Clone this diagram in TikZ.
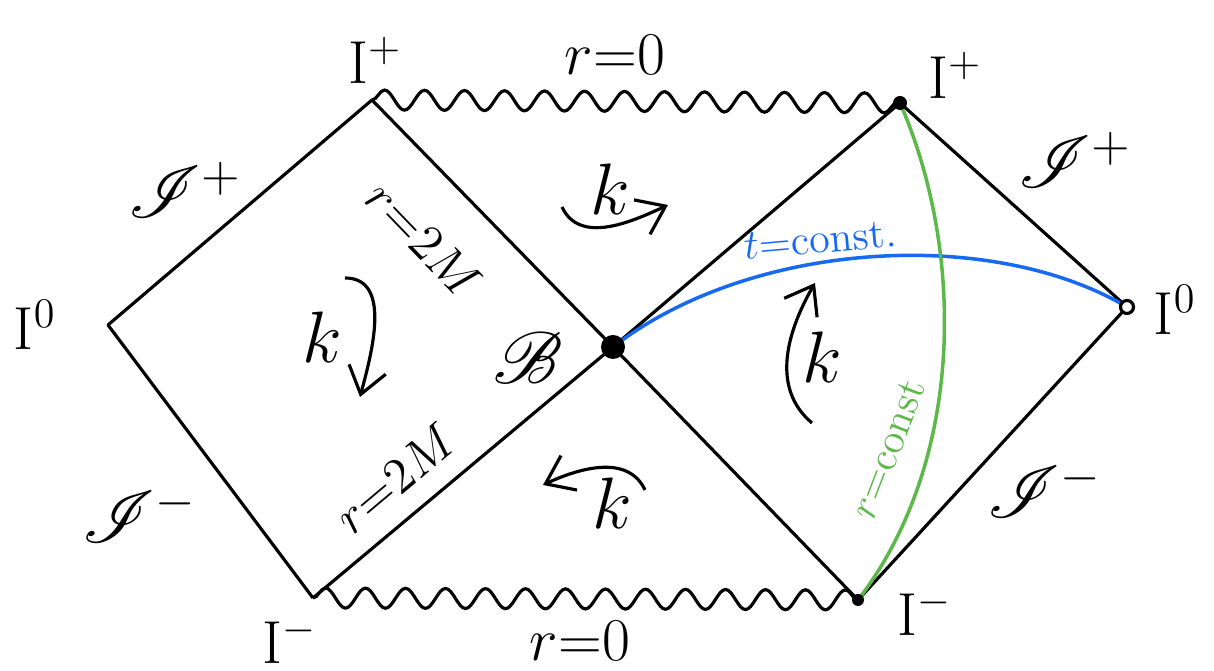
\documentclass[tikz,border=0pt]{standalone}
\usepackage{amsmath,amssymb}
\usepackage{mathrsfs}
\usetikzlibrary{arrows.meta,positioning,calc,decorations.pathmorphing}
\definecolor{tline}{HTML}{1769F2}
\definecolor{rline}{HTML}{5DB84A}
\tikzset{
  edge/.style={line width=0.9pt, line join=round},
  sing/.style={line width=0.9pt, decorate,
               decoration={snake, segment length=4mm, amplitude=1mm}},
  flow/.style={->, >={Straight Barb[length=2.6mm, width=3.8mm]}, line width=0.9pt},
  lbl/.style={font=\LARGE, inner sep=1pt},
  big/.style={font=\huge, inner sep=1pt},
  small/.style={font=\large, inner sep=1pt},
  dot/.style={circle, fill=black, inner sep=0pt, minimum size=#1},
  dot/.default=2mm
}

\begin{document}
\begin{tikzpicture}
  \useasboundingbox (0,0) rectangle (12.14,6.71);
  % corners of the diagram
  \coordinate (L0) at (1.08,3.46);
  \coordinate (TL) at (3.72,5.71);
  \coordinate (BL) at (3.13,0.73);
  \coordinate (B)  at (6.13,3.24);
  \coordinate (TR) at (9.00,5.68);
  \coordinate (R0) at (11.27,3.64);
  \coordinate (BR) at (8.58,0.71);

  % null boundaries and horizons
  \draw[edge] (TL) -- (L0) -- (BL);
  \draw[edge] (TL) -- (B) -- (BR);
  \draw[edge] (BL) -- (B) -- (TR);
  \draw[edge] (TR) -- (R0) -- (BR);

  % singularities
  \draw[sing] (TL) -- (TR);
  \draw[sing] (BL) -- (BR);

  % slices
  \draw[tline, line width=1pt] (B) .. controls (7.5,4.3) and (9.9,4.45) .. (R0);
  \draw[rline, line width=1pt] (TR) .. controls (9.65,4.2) and (9.65,2.1) .. (BR);

  % points
  \node[dot=2.4mm] (Bdot) at (B) {};
  \node[dot=1.4mm] (TRdot) at (TR) {};
  \node[dot=1.2mm] (BRdot) at (BR) {};
  \node[circle, draw, line width=0.9pt, inner sep=0pt, minimum size=1.3mm, fill=white] (R0dot) at (R0) {};

  % flow of the Killing field
  \coordinate (ktopA) at (5.62,4.64);
  \coordinate (ktopB) at (6.68,4.66);
  \draw[flow] (ktopA) to[out=-65,in=205] (ktopB);
  \coordinate (kleftA) at (3.45,3.93);
  \coordinate (kleftB) at (3.60,2.74);
  \draw[flow] (kleftA) to[out=0,in=75] (kleftB);
  \coordinate (krightA) at (8.12,2.48);
  \coordinate (krightB) at (8.15,3.88);
  \draw[flow] (krightA) to[out=140,in=240] (krightB);
  \coordinate (kbotA) at (6.45,1.81);
  \coordinate (kbotB) at (5.43,1.86);
  \draw[flow] (kbotA) to[out=115,in=25] (kbotB);

  % labels
  \node[lbl] (Iptl) at (3.75,6.11) {I$^{+}$};
  \node[lbl] (rtop) at (6.15,6.16) {$r{=}0$};
  \node[lbl] (Iptr) at (9.55,5.96) {I$^{+}$};
  \node[big] (Spl)  at (1.85,4.81) {$\mathscr{I}^{+}$};
  \node[big] (Spr)  at (10.75,5.11) {$\mathscr{I}^{+}$};
  \node[lbl] (I0l)  at (0.35,3.46) {I$^{0}$};
  \node[lbl] (I0r)  at (11.75,3.61) {I$^{0}$};
  \node[big] (Sml)  at (1.40,1.56) {$\mathscr{I}^{-}$};
  \node[big] (Smr)  at (10.45,1.81) {$\mathscr{I}^{-}$};
  \node[lbl] (Imbl) at (2.90,0.31) {I$^{-}$};
  \node[lbl] (Imbr) at (9.25,0.59) {I$^{-}$};
  \node[lbl] (rbot) at (5.80,0.30) {$r{=}0$};
  \node[lbl, font=\Large, rotate=-46] (hzt) at (4.24,4.32) {$r{=}2M$};
  \node[lbl, font=\Large, rotate=40] (hzb) at (3.95,1.93) {$r{=}2M$};
  \node[big] (bif) at (5.28,3.13) {$\mathscr{B}$};
  \node[big] (ktop) at (6.10,4.82) {$k$};
  \node[big] (kleft) at (3.22,3.34) {$k$};
  \node[big] (kright) at (8.22,3.14) {$k$};
  \node[big] (kbot) at (6.12,1.68) {$k$};
  \node[small, tline, rotate=5] (tc) at (8.20,4.31) {$t{=}\mathrm{const.}$};
  \node[small, rline, rotate=69] (rc) at (8.88,2.22) {$r{=}\mathrm{const}$};
\end{tikzpicture}
\end{document}
